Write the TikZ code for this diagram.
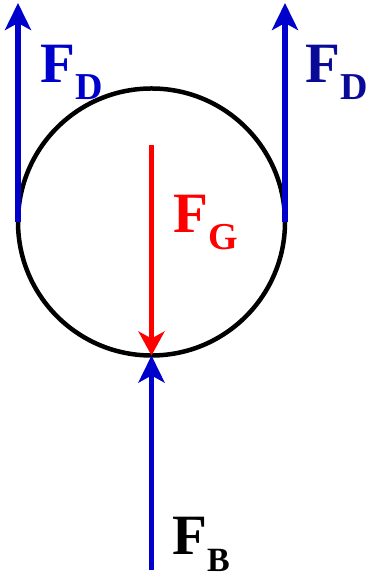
\documentclass[tikz,border=0pt]{standalone}
\usepackage{fontspec}
\setmainfont{Liberation Serif}
\usetikzlibrary{arrows.meta, positioning}
\definecolor{bleu}{HTML}{0000CC}
\definecolor{bleufonce}{HTML}{0A0A99}
\definecolor{rouge}{HTML}{FF0000}
\tikzset{
  force/.style={line width=5.5pt, color=bleu,
    -{Stealth[length=27pt, width=26pt, inset=7pt]}},
  poids/.style={force, line width=4.5pt, color=rouge,
    -{Stealth[length=24pt, width=26pt, inset=7pt]}},
  balle/.style={circle, draw=black, line width=4.5pt, outer sep=0pt,
    minimum size=267pt, inner sep=0pt},
  etiquette/.style={font=\fontsize{57}{60}\selectfont\bfseries,
    anchor=base west, inner sep=0pt}
}
\newcommand{\indice}[1]{\raisebox{-17pt}{\fontsize{38}{40}\selectfont #1}}
\newcommand{\petitindice}[1]{\raisebox{-16pt}{\fontsize{34}{36}\selectfont #1}}

\begin{document}
\begin{tikzpicture}[x=1pt, y=1pt]
    \useasboundingbox (0,0) rectangle (376,577);

    \node[balle] (sphere) at (151.5,355) {};

    \coordinate (hautg) at (18,574);
    \coordinate (hautd) at (285,574);
    \coordinate (centre) at (151.5,432);
    \coordinate (bas) at (151.5,7);

    % forces
    \draw[force] (sphere.west) -- (hautg);
    \draw[force] (sphere.east) -- (hautd);
    \draw[poids] (centre) -- (sphere.south);
    \draw[force] (bas) -- (sphere.south);

    % labels
    \node[etiquette, text=bleu] (fdg) at (40,494) {F\indice{D}};
    \node[etiquette, text=bleufonce] (fdd) at (305,494) {F\indice{D}};
    \node[etiquette, text=rouge] (fg) at (173,344) {F\indice{G}};
    \node[etiquette, text=black] (fb) at (172,22) {F\petitindice{B}};
  \end{tikzpicture}
\end{document}
